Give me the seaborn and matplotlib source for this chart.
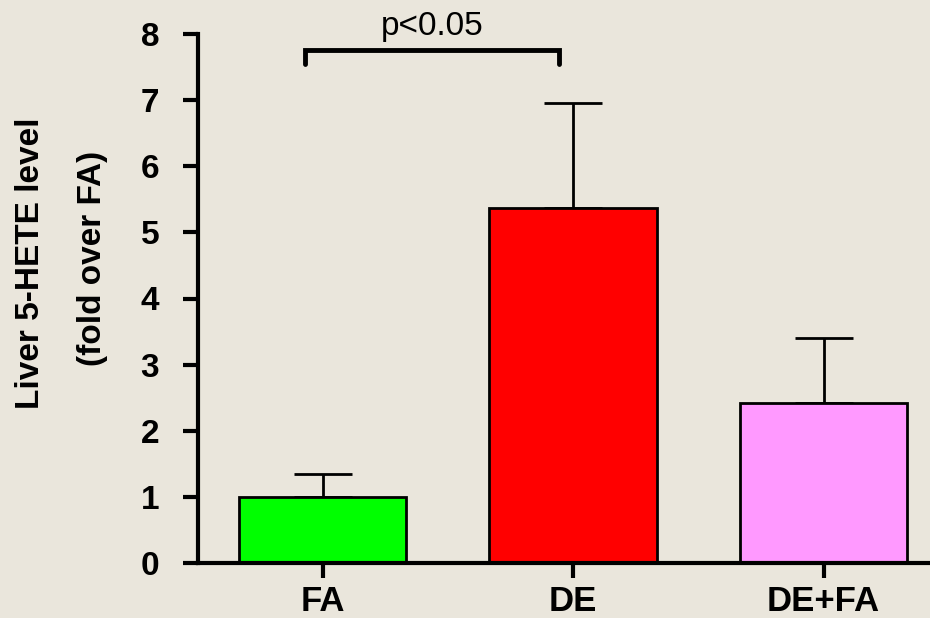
import matplotlib
matplotlib.use("Agg")
import matplotlib.pyplot as plt
import seaborn as sns
import pandas as pd

# Liver 5-HETE, fold over FA (mean and upper SEM)
groups = ["FA", "DE", "DE+FA"]
means = [1.0, 5.37, 2.42]
sems = [0.35, 1.59, 0.98]
bar_colors = ["#00FF00", "#FF0000", "#FF99FF"]
y_ticks = [0, 1, 2, 3, 4, 5, 6, 7, 8]
sig_label = "p<0.05"

bg = "#EAE6DC"
sns.set_theme(style="ticks")
plt.rcParams["font.family"] = ["Liberation Sans", "DejaVu Sans"]
plt.rcParams["text.color"] = "black"

fig = plt.figure(figsize=(9.3, 6.18), dpi=100, facecolor=bg)
ax = fig.add_axes([198 / 930, 55 / 618, 1 - 198 / 930, (563 - 34) / 618])
ax.set_facecolor(bg)

df = pd.DataFrame({"group": groups, "mean": means})
sns.barplot(data=df, x="group", y="mean", hue="group", palette=bar_colors,
            order=groups, width=0.667, edgecolor="black", linewidth=2,
            saturation=1, legend=False, ax=ax, zorder=2)

ax.errorbar(range(len(groups)), means, yerr=[[0] * len(groups), sems],
            fmt="none", ecolor="black", elinewidth=2, capsize=21,
            capthick=2, zorder=1)

ax.set_xlim(-0.497, 2.425)
ax.set_ylim(0, 8)
ax.set_yticks(y_ticks)
ax.set_yticklabels([str(t) for t in y_ticks], fontsize=24, fontweight="bold")
ax.set_xticks(range(len(groups)))
ax.set_xticklabels(groups, fontsize=25, fontweight="bold")
ax.set_xlabel("")
ax.set_ylabel("")

for side in ["top", "right"]:
    ax.spines[side].set_visible(False)
for side in ["left", "bottom"]:
    ax.spines[side].set_linewidth(3)
    ax.spines[side].set_color("black")
ax.tick_params(axis="both", direction="out", length=11, width=3,
               color="black", labelcolor="black")
ax.tick_params(axis="y", pad=17)
ax.tick_params(axis="x", pad=5)

# significance bracket between FA and DE
bx0, bx1, by, bdrop = -0.07, 0.944, 7.76, 0.22
ax.plot([bx0, bx0, bx1, bx1], [by - bdrop, by, by, by - bdrop],
        color="black", linewidth=3.5, clip_on=False, solid_joinstyle="miter")
ax.text((bx0 + bx1) / 2, by + 0.12, sig_label, ha="center", va="bottom",
        fontsize=24, color="black", clip_on=False)

fig.text(31 / 930, 1 - 263 / 618, "Liver 5-HETE level", rotation=90,
         ha="center", va="center", fontsize=24, fontweight="bold",
         color="black")
fig.text(93 / 930, 1 - 258 / 618, "(fold over FA)", rotation=90,
         ha="center", va="center", fontsize=24, fontweight="bold",
         color="black")

fig.savefig("out.png", dpi=100, facecolor=bg)
